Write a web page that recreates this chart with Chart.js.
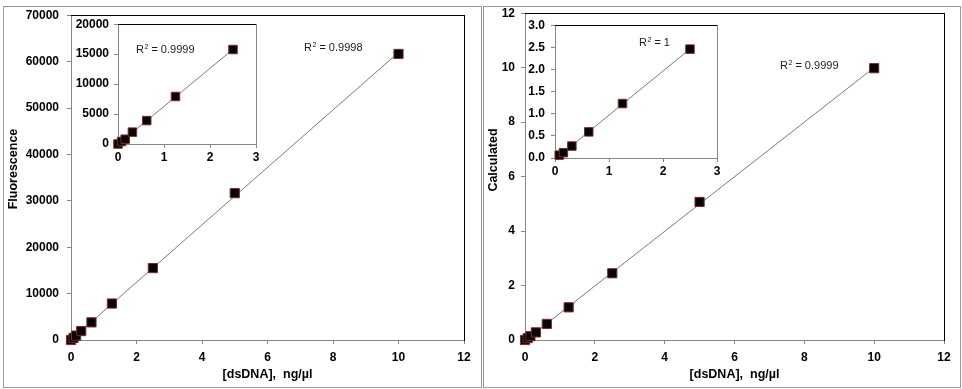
<!DOCTYPE html>
<html>
<head>
<meta charset="utf-8">
<script src="https://cdn.jsdelivr.net/npm/chart.js@4.4.1/dist/chart.umd.min.js"></script>
<style>
    body { margin: 0; background: #fff; }
    #page { position: relative; width: 962px; height: 389px; overflow: hidden; }
    .panel { position: absolute; top: 6px; height: 380px; border: 1px solid #9a9a9a; }
    canvas { position: absolute; }
</style>
</head>
<body>
<div id="page">
    <div class="panel" style="left:3px; width:477px;"></div>
    <div class="panel" style="left:483px; width:476px;"></div>
    <canvas id="fluoMain" width="481" height="389" style="left:0; top:0;"></canvas>
    <canvas id="fluoInset" width="200" height="158" style="left:72px; top:12px;"></canvas>
    <canvas id="calcMain" width="480" height="389" style="left:482px; top:0;"></canvas>
    <canvas id="calcInset" width="210" height="172" style="left:527px; top:12px;"></canvas>
</div>
<script>
// dsDNA standard dilutions, ng/µl
const conc = [0, 0.078, 0.156, 0.3125, 0.625, 1.25, 2.5, 5, 10];
const fluorescence = [0, 470, 950, 1930, 3800, 7860, 15500, 31650, 61650];
const calculated = [0, 0.07, 0.14, 0.28, 0.59, 1.2, 2.45, 5.07, 9.98];

// inset (low range) readings
const insetConc = [0, 0.078, 0.156, 0.3125, 0.625, 1.25, 2.5];
const insetFluorescence = [0, 420, 800, 1980, 3910, 7930, 15770];
const insetCalcConc = [0.078, 0.156, 0.3125, 0.625, 1.25, 2.5];
const insetCalculated = [0.065, 0.12, 0.27, 0.59, 1.23, 2.46];

const mainXTicks = [0, 2, 4, 6, 8, 10, 12];
const fluoTicks = [0, 10000, 20000, 30000, 40000, 50000, 60000, 70000];
const calcTicks = [0, 2, 4, 6, 8, 10, 12];
const insetXTicks = [0, 1, 2, 3];
const insetFluoTicks = [0, 5000, 10000, 15000, 20000];
const insetCalcTicks = [0, 0.5, 1, 1.5, 2, 2.5, 3];

const axisGray = '#868686';
const tickFont = { family: 'Liberation Sans, Arial, sans-serif', size: 12, weight: 'bold' };
const titleFont = { family: 'Liberation Sans, Arial, sans-serif', size: 12.5, weight: 'bold' };

function toPoints(xs, ys) {
    return xs.map((x, i) => ({ x: x, y: ys[i] }));
}

// least squares trendline, from first to last x
function trendline(xs, ys) {
    const n = xs.length;
    let sx = 0, sy = 0, sxx = 0, sxy = 0;
    for (let i = 0; i < n; i++) {
        sx += xs[i]; sy += ys[i]; sxx += xs[i] * xs[i]; sxy += xs[i] * ys[i];
    }
    const slope = (n * sxy - sx * sy) / (n * sxx - sx * sx);
    const icpt = (sy - slope * sx) / n;
    const x0 = Math.min(...xs), x1 = Math.max(...xs);
    return [{ x: x0, y: icpt + slope * x0 }, { x: x1, y: icpt + slope * x1 }];
}

// frame lines, R² note and y title
function decor(cfg) {
    return {
        id: 'decor',
        afterDraw(chart) {
            const ctx = chart.ctx;
            const a = chart.chartArea;
            ctx.save();
            ctx.lineWidth = 1;
            ctx.strokeStyle = cfg.topColor;
            ctx.beginPath();
            ctx.moveTo(Math.round(a.left), Math.round(a.top) + 0.5);
            ctx.lineTo(Math.round(a.right) + 1, Math.round(a.top) + 0.5);
            ctx.stroke();
            ctx.strokeStyle = cfg.rightColor;
            ctx.beginPath();
            ctx.moveTo(Math.round(a.right) + 0.5, Math.round(a.top));
            ctx.lineTo(Math.round(a.right) + 0.5, Math.round(a.bottom) + 1);
            ctx.stroke();

            ctx.fillStyle = '#1a1a1a';
            ctx.textBaseline = 'middle';
            ctx.textAlign = 'left';
            ctx.font = '11px "Liberation Sans", Arial, sans-serif';
            const w = ctx.measureText('R').width;
            ctx.fillText('R', cfg.noteX, cfg.noteY);
            ctx.font = '7px "Liberation Sans", Arial, sans-serif';
            ctx.fillText('2', cfg.noteX + w + 0.5, cfg.noteY - 3);
            const w2 = ctx.measureText('2').width;
            ctx.font = '11px "Liberation Sans", Arial, sans-serif';
            ctx.fillText(' = ' + cfg.r2, cfg.noteX + w + w2 + 0.5, cfg.noteY);

            if (cfg.yTitle) {
                ctx.fillStyle = '#000';
                ctx.font = 'bold 12.5px "Liberation Sans", Arial, sans-serif';
                ctx.textAlign = 'center';
                ctx.translate(cfg.yTitleX, cfg.yTitleY);
                ctx.rotate(-Math.PI / 2);
                ctx.fillText(cfg.yTitle, 0, 0);
            }
            ctx.restore();
        }
    };
}

function makeChart(id, s) {
    const ctx = document.getElementById(id).getContext('2d');
    return new Chart(ctx, {
        type: 'scatter',
        data: {
            datasets: [{
                data: toPoints(s.xs, s.ys),
                pointStyle: 'rect',
                pointRadius: s.radius,
                pointHoverRadius: s.radius,
                backgroundColor: '#050505',
                borderColor: '#7d2a2a',
                borderWidth: 1,
                clip: false
            }, {
                data: trendline(s.xs, s.ys),
                showLine: true,
                pointRadius: 0,
                borderColor: '#7a7a7a',
                borderWidth: 1,
                clip: false
            }]
        },
        options: {
            responsive: false,
            animation: false,
            events: [],
            layout: { padding: { left: 0, top: s.padTop, right: s.padRight, bottom: 0 } },
            plugins: { legend: { display: false }, tooltip: { enabled: false } },
            scales: {
                x: {
                    type: 'linear',
                    min: s.xTicks[0],
                    max: s.xTicks[s.xTicks.length - 1],
                    afterBuildTicks: sc => { sc.ticks = s.xTicks.map(v => ({ value: v })); },
                    afterFit: sc => { sc.height = s.xHeight; },
                    ticks: { font: tickFont, color: '#000', padding: s.xPad },
                    grid: { drawOnChartArea: false, drawTicks: true, tickLength: 4, color: axisGray },
                    border: { color: axisGray },
                    title: s.xTitle ? { display: true, text: s.xTitle, font: titleFont, color: '#000', padding: { top: 0, bottom: 6.5 } } : { display: false }
                },
                y: {
                    type: 'linear',
                    min: s.yTicks[0],
                    max: s.yTicks[s.yTicks.length - 1],
                    afterBuildTicks: sc => { sc.ticks = s.yTicks.map(v => ({ value: v })); },
                    afterFit: sc => { sc.width = s.yWidth; },
                    ticks: { font: tickFont, color: '#000', padding: s.yPad, callback: s.yFormat },
                    grid: { drawOnChartArea: false, drawTicks: true, tickLength: 4, color: axisGray },
                    border: { color: axisGray }
                }
            }
        },
        plugins: [decor(s.decor)]
    });
}

makeChart('fluoMain', {
    xs: conc, ys: fluorescence, radius: 6.5,
    xTicks: mainXTicks, yTicks: fluoTicks,
    padTop: 13, padRight: 17, xHeight: 49, yWidth: 71, xPad: 6, yPad: 8,
    xTitle: '[dsDNA],  ng/µl', yFormat: v => String(v),
    decor: { topColor: '#000', rightColor: '#000', noteX: 304, noteY: 48, r2: '0.9998',
             yTitle: 'Fluorescence', yTitleX: 13.5, yTitleY: 169 }
});

makeChart('fluoInset', {
    xs: insetConc, ys: insetFluorescence, radius: 6,
    xTicks: insetXTicks, yTicks: insetFluoTicks,
    padTop: 8, padRight: 16, xHeight: 26, yWidth: 46, xPad: 2, yPad: 5,
    xTitle: null, yFormat: v => String(v),
    decor: { topColor: '#000', rightColor: axisGray, noteX: 64, noteY: 38, r2: '0.9999' }
});

makeChart('calcMain', {
    xs: conc, ys: calculated, radius: 6.5,
    xTicks: mainXTicks, yTicks: calcTicks,
    padTop: 13, padRight: 18, xHeight: 49, yWidth: 43, xPad: 6, yPad: 6,
    xTitle: '[dsDNA],  ng/µl', yFormat: v => String(v),
    decor: { topColor: '#000', rightColor: '#000', noteX: 298, noteY: 66, r2: '0.9999',
             yTitle: 'Calculated', yTitleX: 11.5, yTitleY: 160 }
});

makeChart('calcInset', {
    xs: insetCalcConc, ys: insetCalculated, radius: 6,
    xTicks: insetXTicks, yTicks: insetCalcTicks,
    padTop: 8, padRight: 20, xHeight: 26, yWidth: 28, xPad: 2, yPad: 6,
    xTitle: null, yFormat: v => v.toFixed(1),
    decor: { topColor: '#000', rightColor: axisGray, noteX: 112, noteY: 31, r2: '1' }
});
</script>
</body>
</html>
